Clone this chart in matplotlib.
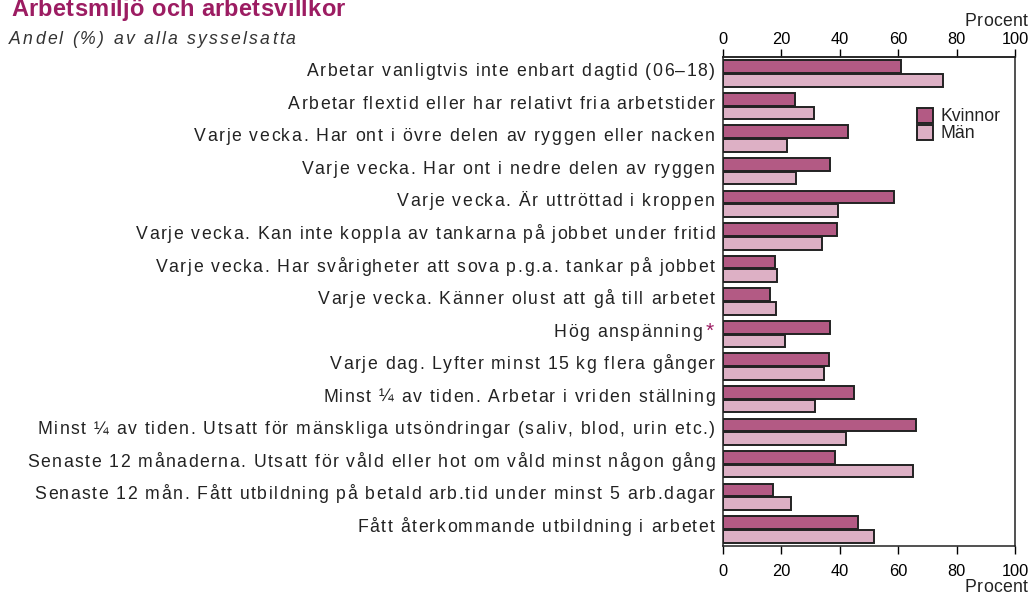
import numpy as np
import matplotlib
matplotlib.use("Agg")
import matplotlib.pyplot as plt
from matplotlib import font_manager
from matplotlib.font_manager import FontProperties
from matplotlib.ft2font import FT2Font
from matplotlib.transforms import IdentityTransform

plt.rcParams["font.family"] = ["Liberation Sans", "DejaVu Sans"]

# ---- data ----
categories = [
    "Arbetar vanligtvis inte enbart dagtid (06–18)",
    "Arbetar flextid eller har relativt fria arbetstider",
    "Varje vecka. Har ont i övre delen av ryggen eller nacken",
    "Varje vecka. Har ont i nedre delen av ryggen",
    "Varje vecka. Är uttröttad i kroppen",
    "Varje vecka. Kan inte koppla av tankarna på jobbet under fritid",
    "Varje vecka. Har svårigheter att sova p.g.a. tankar på jobbet",
    "Varje vecka. Känner olust att gå till arbetet",
    "Hög anspänning",
    "Varje dag. Lyfter minst 15 kg flera gånger",
    "Minst ¼ av tiden. Arbetar i vriden ställning",
    "Minst ¼ av tiden. Utsatt för mänskliga utsöndringar (saliv, blod, urin etc.)",
    "Senaste 12 månaderna. Utsatt för våld eller hot om våld minst någon gång",
    "Senaste 12 mån. Fått utbildning på betald arb.tid under minst 5 arb.dagar",
    "Fått återkommande utbildning i arbetet",
]
kvinnor = [60.8, 24.7, 42.9, 36.8, 58.7, 39.0, 18.0, 16.2, 36.8, 36.3, 44.9, 66.1, 38.5, 17.1, 46.1]
man = [75.3, 31.1, 21.9, 25.2, 39.3, 33.9, 18.7, 18.2, 21.2, 34.5, 31.7, 42.0, 65.0, 23.2, 51.7]
star_label = "Hög anspänning"
x_ticks = [0, 20, 40, 60, 80, 100]

c_kv = "#b35a84"
c_ma = "#ddb0c5"
c_title = "#9c1c62"
edge = "#222222"

W, H = 1031, 593
fig = plt.figure(figsize=(W / 100, H / 100), dpi=100)
ax = fig.add_axes([0.701, 0.0798, 0.2838, 0.8236])


def tracked(s, x, y, size, track, ha="left", weight="normal", style="normal", color="#222222"):
    """Draw text letter by letter with extra spacing (pixels, y from top)."""
    fp = FontProperties(family="Liberation Sans", size=size, weight=weight, style=style)
    font = FT2Font(font_manager.findfont(fp))
    font.set_size(size, 100)
    adv = [font.load_char(ord(c)).linearHoriAdvance / 65536 for c in s]
    total = sum(adv) + track * (len(s) - 1)
    xx = x - total if ha == "right" else x
    for c, a in zip(s, adv):
        if c != " ":
            fig.text(xx, H - y, c, transform=IdentityTransform(), fontproperties=fp,
                     ha="left", va="baseline", color=color)
        xx += a + track
    return xx


y = np.arange(len(categories))
h = 0.39
ax.barh(y - 0.21, kvinnor, height=h, color=c_kv, edgecolor=edge, linewidth=1.4, label="Kvinnor")
ax.barh(y + 0.21, man, height=h, color=c_ma, edgecolor=edge, linewidth=1.4, label="Män")

ax.set_xlim(0, 100)
ax.set_ylim(len(categories) - 0.5, -0.5)
ax.set_xticks(x_ticks)
ax.set_yticks([])
ax.tick_params(axis="x", direction="out", length=5.8, width=1, labelsize=11.8, pad=7.4)
sec = ax.secondary_xaxis("top")
sec.set_xticks(x_ticks)
sec.tick_params(axis="x", direction="out", length=5.8, width=1, labelsize=11.8, pad=1.6)
for a in (ax, sec):
    for s in a.spines.values():
        s.set_linewidth(1.1)
        s.set_color("#222222")

# category labels, right aligned against the axis, letter-spaced like the original
x_axis_left = ax.transAxes.transform((0, 0))[0]
for i, lab in enumerate(categories):
    yc = H - ax.transData.transform((0, i))[1] + 2.6
    if lab == star_label:
        tracked(lab, x_axis_left - 21, yc, 12.7, 1.5, ha="right")
        tracked("*", x_axis_left - 17.5, yc, 15, 0, color=c_title)
    else:
        tracked(lab, x_axis_left - 8, yc, 12.7, 1.5, ha="right")

leg = ax.legend(loc="upper left", bbox_to_anchor=(0.664, 0.896), frameon=False,
                fontsize=12.7, handlelength=0.9, handleheight=0.9,
                handletextpad=0.45, labelspacing=-0.03, borderpad=0, borderaxespad=0)
for t in leg.get_texts():
    t.set_color("#222222")

tracked("Procent", 1028, 26, 12.7, 0.5, ha="right")
tracked("Procent", 1028, 591.5, 12.7, 0.5, ha="right")

tracked("Arbetsmiljö och arbetsvillkor", 11, 16, 17, 0.3, weight="bold", color=c_title)
tracked("Andel (%) av alla sysselsatta", 9, 44.5, 12.7, 2.2, style="italic", color="#333333")

fig.savefig("out.png", dpi=100)
